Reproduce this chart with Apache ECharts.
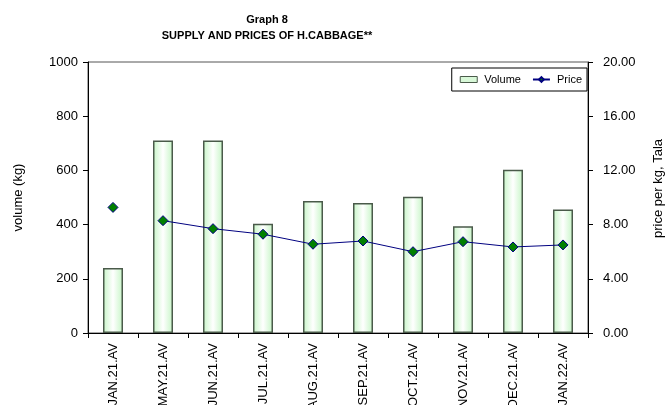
<!DOCTYPE html>
<html><head><meta charset="utf-8">
<script src="https://cdn.jsdelivr.net/npm/echarts@6/dist/echarts.min.js"></script>
<style>html,body{margin:0;padding:0;background:#fff}#c{width:665px;height:405px}</style>
</head><body><div id="c"></div>
<script>
var categories = ['JAN.21.AV','MAY.21.AV','JUN.21.AV','JUL.21.AV','AUG.21.AV','SEP.21.AV','OCT.21.AV','NOV.21.AV','DEC.21.AV','JAN.22.AV'];
var volume = [240, 710, 710, 403, 487, 480, 503, 394, 602, 456];
var price = [9.27, 8.29, 7.70, 7.29, 6.55, 6.79, 6.00, 6.74, 6.35, 6.50];
var volumeTicks = [0, 200, 400, 600, 800, 1000];
var priceTicks = [0, 4, 8, 12, 16, 20];

// price line is broken after the first month
var priceLine = price.map(function(v, i){ return i === 0 ? null : v; });
var priceFirst = price.map(function(v, i){ return i === 0 ? v : null; });

var font = 'Liberation Sans, Arial, sans-serif';
var chart = echarts.init(document.getElementById('c'), null, {renderer:'canvas'});
var barFill = new echarts.graphic.LinearGradient(0,0,1,0,[
  {offset:0, color:'#c6f5c6'},{offset:0.5, color:'#ffffff'},{offset:1, color:'#c6f5c6'}]);
var mk = {color:'#008000', borderColor:'#000080', borderWidth:1};
chart.setOption({
  animation:false,
  textStyle:{fontFamily:font},
  title:{
    text:'Graph 8\nSUPPLY AND PRICES OF H.CABBAGE**',
    left:267, top:12, textAlign:'center', padding:0,
    textStyle:{fontFamily:font, fontSize:11, fontWeight:'bold', color:'#000', lineHeight:16}
  },
  legend:{
    right:78, top:68, itemGap:11, itemWidth:17, itemHeight:6,
    padding:[6,5,6,8],
    backgroundColor:'#fff', borderColor:'#000', borderWidth:1, borderRadius:0,
    textStyle:{fontFamily:font, fontSize:11, color:'#000', padding:[0,0,0,2]},
    data:[{name:'Volume', icon:'rect', itemStyle:{color:'#d8f8d8', borderColor:'#4a5a4a', borderWidth:1}},
          {name:'Price'}]
  },
  grid:{left:88, right:77, top:62, bottom:72, containLabel:false, outerBoundsMode:'none',
        show:true, borderColor:'#555', borderWidth:1},
  xAxis:{
    type:'category', data:categories,
    axisLine:{lineStyle:{color:'#000', width:1}},
    axisTick:{show:true, inside:false, length:5, lineStyle:{color:'#000'}},
    axisLabel:{rotate:90, fontFamily:font, fontSize:13, color:'#000', margin:10, interval:0}
  },
  yAxis:[{
    type:'value', min:0, max:1000, interval:200,
    name:'volume (kg)', nameLocation:'middle', nameGap:63, nameRotate:90,
    nameTextStyle:{fontFamily:font, fontSize:13, color:'#000'},
    axisLine:{show:true, lineStyle:{color:'#000'}},
    axisTick:{show:true, length:5, lineStyle:{color:'#000'}},
    axisLabel:{fontFamily:font, fontSize:13, color:'#000', margin:10,
      formatter:function(v){ return volumeTicks.indexOf(v) >= 0 ? String(v) : ''; }},
    splitLine:{show:false}
  },{
    type:'value', min:0, max:20, interval:4, position:'right',
    name:'price per kg, Tala', nameLocation:'middle', nameGap:64, nameRotate:90,
    nameTextStyle:{fontFamily:font, fontSize:13, color:'#000', padding:[0,0,0,18]},
    axisLine:{show:true, lineStyle:{color:'#000'}},
    axisTick:{show:true, length:5, lineStyle:{color:'#000'}},
    axisLabel:{fontFamily:font, fontSize:13, color:'#000', margin:15,
      formatter:function(v){ return priceTicks.indexOf(v) >= 0 ? v.toFixed(2) : ''; }},
    splitLine:{show:false}
  }],
  series:[{
    name:'Volume', type:'bar', data:volume, barWidth:20, yAxisIndex:0,
    itemStyle:{color:barFill, borderColor:'#4a5a4a', borderWidth:1.5}
  },{
    name:'Price', type:'line', data:priceLine, yAxisIndex:1,
    symbol:'diamond', symbolSize:10, showSymbol:true, connectNulls:false,
    lineStyle:{color:'#000080', width:1}, itemStyle:mk
  },{
    name:'Price', type:'line', data:priceFirst, yAxisIndex:1,
    symbol:'diamond', symbolSize:10, showSymbol:true,
    lineStyle:{color:'#000080', width:1}, itemStyle:mk
  }]
});
</script></body></html>
